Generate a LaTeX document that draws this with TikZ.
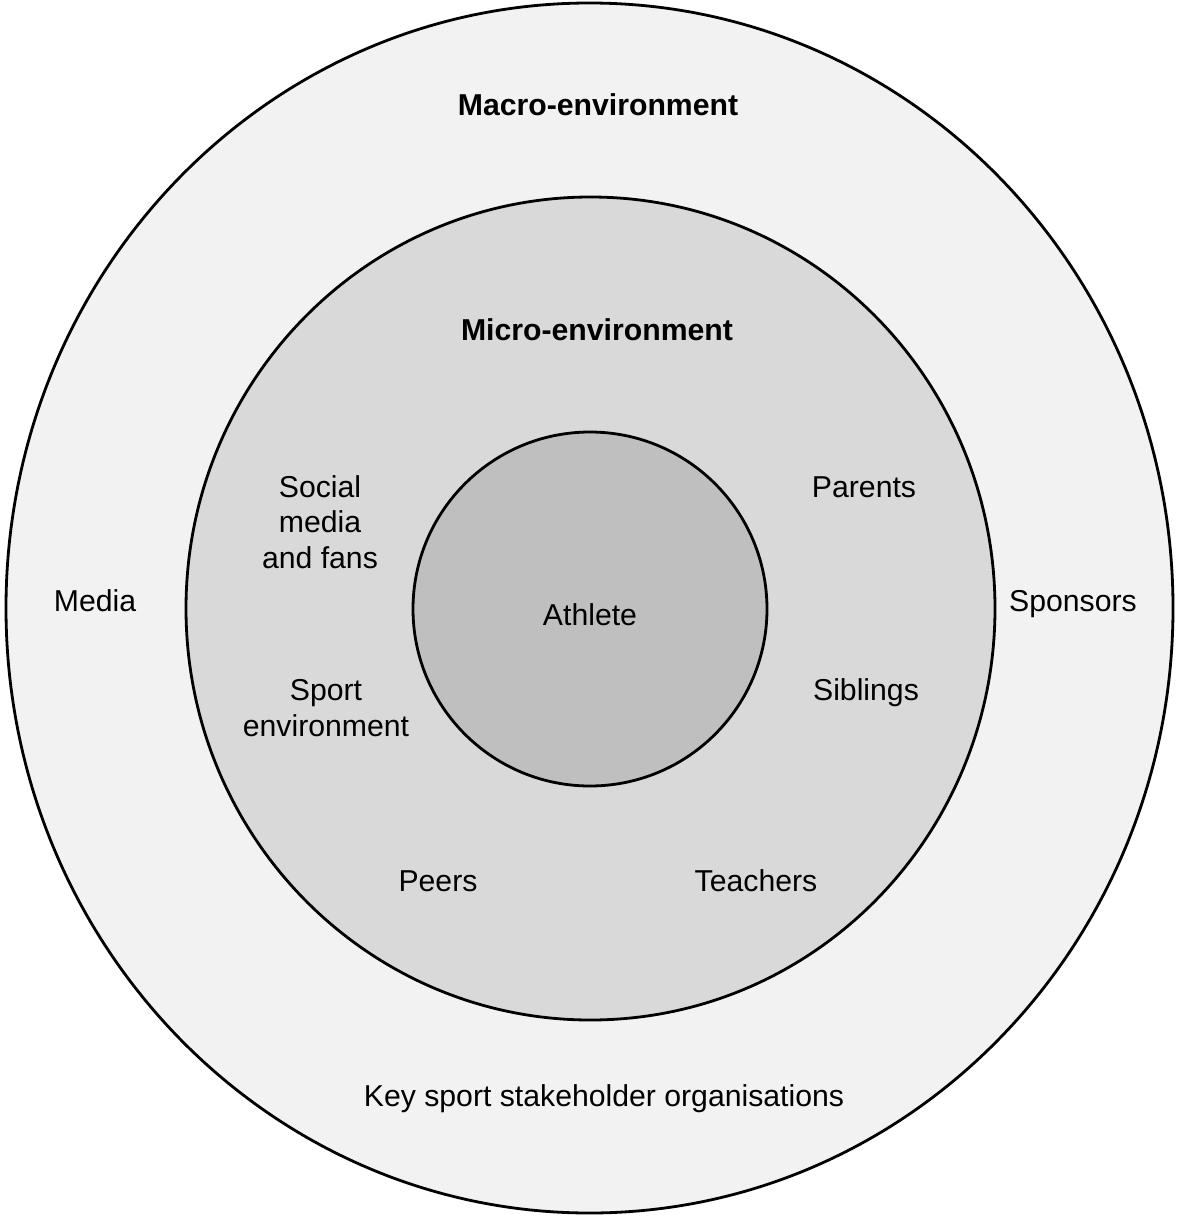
\documentclass[tikz,border=0pt]{standalone}
\usepackage{fontspec}
\setmainfont{Liberation Sans}
\usetikzlibrary{
    shapes.geometric,
    positioning
}
\definecolor{macrocol}{HTML}{F2F2F2}
\definecolor{microcol}{HTML}{D9D9D9}
\definecolor{athlcol}{HTML}{BFBFBF}

\begin{document}
\begin{tikzpicture}[
    x=0.5pt, y=-0.5pt,
    font=\fontsize{15.1pt}{17.75pt}\selectfont,
    ring/.style={
        draw, line width=1.4pt, ellipse, inner sep=0pt
    },
    lbl/.style={
        align=center, inner sep=0pt
    },
    head/.style={
        lbl, font=\fontsize{15.1pt}{17.75pt}\selectfont\bfseries
    },
]

\useasboundingbox (0,0) rectangle (1180,1220);

% ── Rings (outside in) ──
\node[ring, fill=macrocol, minimum width=583.5pt, minimum height=605pt]
    (macro) at (589.5, 608) {};
\node[ring, fill=microcol, minimum width=404.5pt, minimum height=411.5pt]
    (micro) at (590.5, 608.5) {};
\node[ring, circle, fill=athlcol, minimum size=177pt]
    (athlete) at (590, 609) {};

% ── Headings ──
\node[head] (macrolbl) at (598, 105) {Macro-environment};
\node[head] (microlbl) at (597, 330) {Micro-environment};

% --- Macro-environment ---
\node[lbl] (media)    at (95, 601)   {Media};
\node[lbl] (sponsors) at (1073, 604) {Sponsors};
\node[lbl] (keyorg)   at (604, 1099) {Key sport stakeholder organisations};

% --- Micro-environment ---
\node[lbl] (social)   at (320, 522) {Social\\media\\and fans};
\node[lbl] (parents)  at (864, 487) {Parents};
\node[lbl] (sportenv) at (326, 708) {Sport\\environment};
\node[lbl] (siblings) at (866, 693) {Siblings};
\node[lbl] (peers)    at (438, 881) {Peers};
\node[lbl] (teachers) at (756, 881) {Teachers};

% --- Centre ---
\node[lbl] (athletelbl) at (590, 615) {Athlete};

\end{tikzpicture}
\end{document}
